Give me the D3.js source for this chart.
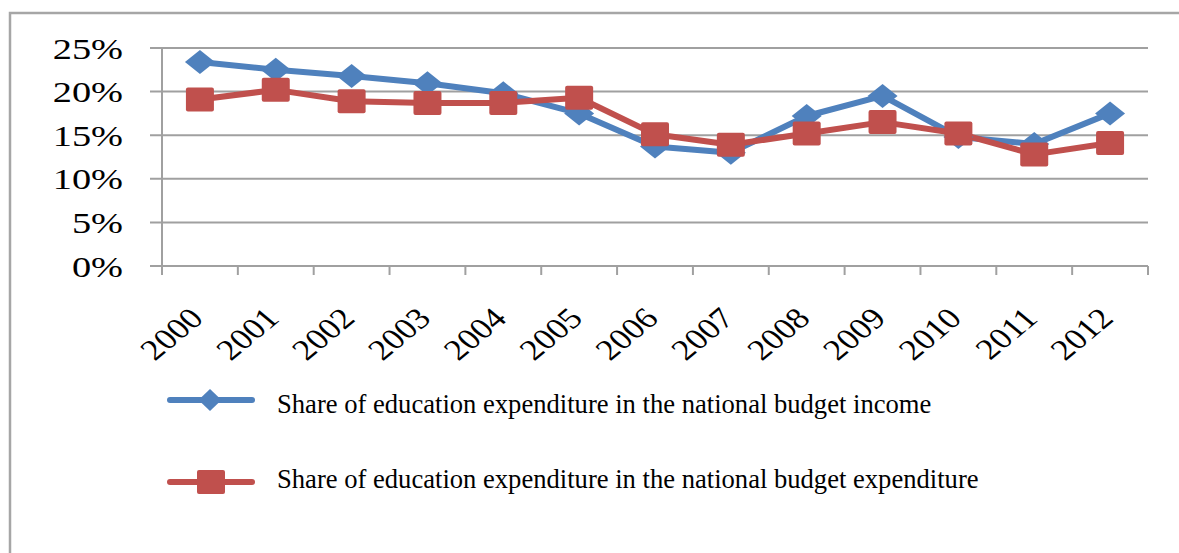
<!DOCTYPE html>
<html>
<head>
<meta charset="utf-8">
<script src="https://cdn.jsdelivr.net/npm/d3@7"></script>
<style>
  body { margin: 0; background: #fff; }
  text { font-family: "Liberation Serif", "Times New Roman", serif; fill: #000; }
</style>
</head>
<body>
<svg id="chart" width="1179" height="553"></svg>
<script>
// data
var years = ["2000", "2001", "2002", "2003", "2004", "2005", "2006",
             "2007", "2008", "2009", "2010", "2011", "2012"];
var incomeShare = [0.234, 0.225, 0.218, 0.2095, 0.198, 0.175, 0.137,
                   0.130, 0.172, 0.195, 0.148, 0.140, 0.175];
var expenditureShare = [0.191, 0.202, 0.189, 0.187, 0.187, 0.193, 0.151,
                        0.139, 0.152, 0.165, 0.152, 0.128, 0.141];
var yTicks = [0, 0.05, 0.10, 0.15, 0.20, 0.25];
var seriesNames = ["Share of education expenditure in the national budget income",
                   "Share of education expenditure in the national budget expenditure"];

var svg = d3.select("#chart");
var blue = "#4f81bd", red = "#c0504d", grid = "#a0a0a0";

var plot = {left: 162, right: 1148, top: 48, bottom: 266};

var x = d3.scaleBand().domain(years).range([plot.left, plot.right]);
var y = d3.scaleLinear().domain([0, 0.25]).range([plot.bottom, plot.top]);

// outer frame (only top and left edges show)
svg.append("path")
   .attr("d", "M10,553 L10,13 L1179,13")
   .attr("fill", "none")
   .attr("stroke", "#a6a6a6")
   .attr("stroke-width", 2.5);

// gridlines
svg.append("g").selectAll("line")
   .data(yTicks)
   .enter().append("line")
   .attr("x1", 150).attr("x2", plot.right)
   .attr("y1", function(d) { return y(d); })
   .attr("y2", function(d) { return y(d); })
   .attr("stroke", grid)
   .attr("stroke-width", 2);

// y axis
var yAxis = svg.append("g")
   .attr("transform", "translate(" + plot.left + ",0)")
   .call(d3.axisLeft(y).tickValues(yTicks).tickFormat(d3.format(".0%"))
          .tickSize(0).tickPadding(39));
yAxis.select(".domain").remove();
yAxis.selectAll("text")
   .attr("font-size", 29.5)
   .attr("dy", "0.34em")
   .attr("transform", "scale(1.3,1)")
   .attr("x", -39 / 1.3);

svg.append("line")
   .attr("x1", plot.left).attr("x2", plot.left)
   .attr("y1", plot.top).attr("y2", plot.bottom + 9)
   .attr("stroke", grid).attr("stroke-width", 2);

// x axis: ticks between categories
var bounds = years.map(function(d) { return x(d); }).concat([x.range()[1]]);
svg.append("g").selectAll("line")
   .data(bounds)
   .enter().append("line")
   .attr("x1", function(d) { return d; })
   .attr("x2", function(d) { return d; })
   .attr("y1", plot.bottom).attr("y2", plot.bottom + 9)
   .attr("stroke", grid).attr("stroke-width", 2);

var xAxis = svg.append("g")
   .attr("transform", "translate(0," + plot.bottom + ")")
   .call(d3.axisBottom(x).tickSize(0));
xAxis.select(".domain").remove();
xAxis.selectAll(".tick text")
   .attr("font-size", 29.5)
   .attr("text-anchor", "end")
   .attr("y", 0).attr("dy", 0)
   .attr("transform", "translate(5,54) scale(1.2,1) rotate(-45)");

// series
var line = d3.line()
   .x(function(d, i) { return x(years[i]) + x.bandwidth() / 2; })
   .y(function(d) { return y(d); });

function diamond(w, h) {
  return "M0," + (-h / 2) + "L" + (w / 2) + ",0L0," + (h / 2) + "L" + (-w / 2) + ",0Z";
}

svg.append("path").datum(incomeShare)
   .attr("d", line).attr("fill", "none")
   .attr("stroke", blue).attr("stroke-width", 6).attr("stroke-linejoin", "round");
svg.append("path").datum(expenditureShare)
   .attr("d", line).attr("fill", "none")
   .attr("stroke", red).attr("stroke-width", 6).attr("stroke-linejoin", "round");

svg.append("g").selectAll("path")
   .data(incomeShare)
   .enter().append("path")
   .attr("d", diamond(30, 24))
   .attr("fill", blue)
   .attr("transform", function(d, i) {
     return "translate(" + (x(years[i]) + x.bandwidth() / 2) + "," + y(d) + ")";
   });

svg.append("g").selectAll("rect")
   .data(expenditureShare)
   .enter().append("rect")
   .attr("x", function(d, i) { return x(years[i]) + x.bandwidth() / 2 - 14; })
   .attr("y", function(d) { return y(d) - 12; })
   .attr("width", 28).attr("height", 24)
   .attr("rx", 2)
   .attr("fill", red);

// legend
var legend = svg.append("g");
var rowY = [400, 482];
legend.selectAll("line")
   .data(rowY)
   .enter().append("line")
   .attr("x1", 170).attr("x2", 252)
   .attr("y1", function(d) { return d; })
   .attr("y2", function(d) { return d; })
   .attr("stroke", function(d, i) { return i == 0 ? blue : red; })
   .attr("stroke-width", 6)
   .attr("stroke-linecap", "round");
legend.append("path")
   .attr("d", diamond(23, 22))
   .attr("transform", "translate(210," + rowY[0] + ")")
   .attr("fill", blue);
legend.append("rect")
   .attr("x", 197).attr("y", rowY[1] - 12)
   .attr("width", 28).attr("height", 24).attr("rx", 2)
   .attr("fill", red);
legend.selectAll("text")
   .data(seriesNames)
   .enter().append("text")
   .attr("x", 277)
   .attr("y", function(d, i) { return i == 0 ? 413 : 488; })
   .attr("font-size", 26.6)
   .text(function(d) { return d; });
</script>
</body>
</html>
